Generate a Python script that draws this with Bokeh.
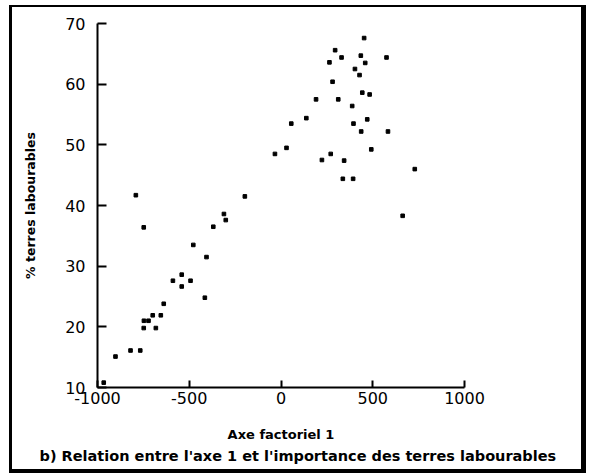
from bokeh.plotting import figure
from bokeh.models import Title, PrintfTickFormatter
from bokeh.embed import file_html
from bokeh.resources import INLINE

# Axe factoriel 1 (x) and % terres labourables (y)
axe1 = [-966, -902, -820, -767, -748, -682, -747, -722, -699, -655,
        -639, -589, -541, -541, -493, -478, -415, -406, -791, -748,
        -369, -311, -301, -197, -33, 30, 56,
        453, 295, 330, 435, 575, 264, 459, 403, 428, 281,
        443, 483, 191, 312, 388, 138, 395, 470, 437, 583,
        492, 271, 223, 344, 729, 337, 393, 663]
terres = [10.8, 15.1, 16.1, 16.1, 19.8, 19.8, 21.0, 21.0, 21.9, 21.9,
          23.8, 27.6, 28.6, 26.65, 27.6, 33.5, 24.8, 31.5, 41.7, 36.4,
          36.5, 38.6, 37.6, 41.5, 48.5, 49.5, 53.5,
          67.6, 65.6, 64.4, 64.7, 64.4, 63.6, 63.5, 62.5, 61.5, 60.4,
          58.6, 58.3, 57.5, 57.5, 56.4, 54.4, 53.5, 54.2, 52.2, 52.2,
          49.25, 48.5, 47.5, 47.4, 46.0, 44.4, 44.4, 38.3]

x_ticks = [-1000, -500, 0, 500, 1000]
y_ticks = [10, 20, 30, 40, 50, 60, 70]

x_label = "Axe factoriel 1"
y_label = "% terres labourables"
caption = "b) Relation entre l'axe 1 et l'importance des terres labourables"

p = figure(width=577, height=468, output_backend="svg", toolbar_location=None,
           x_range=(-1000, 1000), y_range=(10, 70),
           min_border_left=85, min_border_right=125,
           min_border_top=16, min_border_bottom=88)

p.styles = {"margin-left": "9px", "margin-top": "5px",
            "border-style": "solid", "border-color": "black",
            "border-width": "2px 5px 4px 3px"}

p.grid.visible = False
p.outline_line_color = None
p.background_fill_color = "white"
p.border_fill_color = "white"

p.scatter(axe1, terres, marker="square", size=3.6, color="black")

for ax in (p.xaxis[0], p.yaxis[0]):
    ax.axis_line_width = 2
    ax.axis_line_color = "black"
    ax.major_tick_line_width = 2
    ax.major_tick_line_color = "black"
    ax.major_tick_out = 0
    ax.minor_tick_line_color = None
    ax.major_label_text_font = "DejaVu Sans"
    ax.major_label_text_font_size = "16px"
    ax.major_label_text_color = "black"
    ax.axis_label_text_font = "DejaVu Sans"
    ax.axis_label_text_font_style = "bold"
    ax.axis_label_text_color = "black"
    ax.formatter = PrintfTickFormatter(format="%d")

p.xaxis.ticker = x_ticks
p.yaxis.ticker = y_ticks
p.xaxis.major_tick_in = 7
p.yaxis.major_tick_in = 9
p.xaxis.major_label_standoff = 4
p.yaxis.major_label_standoff = 12

p.xaxis.axis_label = x_label
p.xaxis.axis_label_text_font_size = "13px"
p.xaxis.axis_label_standoff = 20

p.yaxis.axis_label = y_label
p.yaxis.axis_label_text_font_size = "12.5px"
p.yaxis.axis_label_standoff = 24

cap = Title(text=caption, align="left", offset=-58, standoff=3,
            text_font="DejaVu Sans", text_font_size="14.5px",
            text_font_style="bold", text_color="black")
p.add_layout(cap, "below")

open("out.html", "w").write(file_html(p, INLINE))
